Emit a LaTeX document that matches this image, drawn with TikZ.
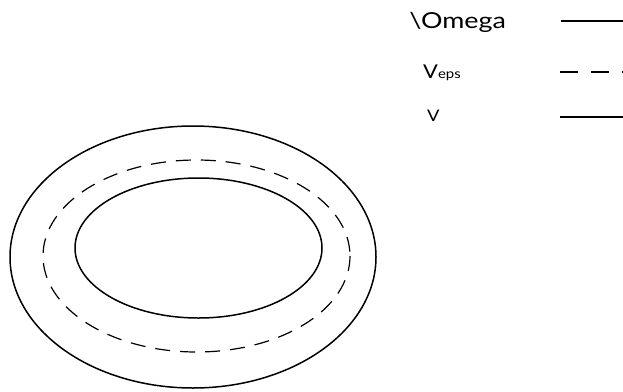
\documentclass[tikz,border=0pt]{standalone}
\usepackage{fontspec}
\setmainfont{Lato}
\usetikzlibrary{positioning}

\begin{document}
\begin{tikzpicture}[x=1pt, y=-1pt,
     every node/.style={inner sep=0pt, anchor=base west},
     boundary/.style={line width=1.5pt},
     layer/.style={line width=1.2pt, dash pattern=on 15pt off 10pt},
     key/.style={line width=1.6pt}]

   \useasboundingbox (0,0) rectangle (623,391);

   % domains
   \draw[boundary] (193,257) ellipse [x radius=183, y radius=131];
   \draw[layer] (196.5,256) ellipse [x radius=153.5, y radius=96];
   \draw[boundary] (198.5,248) ellipse [x radius=123.5, y radius=70];

   % legend
   \node[font=\fontsize{22}{26}\selectfont, xscale=1.22, transform shape] (omega) at (409,28) {\textbackslash Omega};
   \node[font=\fontsize{19}{23}\selectfont, xscale=1.15, transform shape] (veps) at (423,78) {V{\fontsize{13}{15}\selectfont eps}};
   \node[font=\fontsize{16}{19}\selectfont, xscale=1.15, transform shape] (v) at (427,121) {V};

   \coordinate (omegaA) at (561,21);  \coordinate (omegaB) at (623,21);
   \coordinate (vepsA) at (560,72);   \coordinate (vepsB) at (623,72);
   \coordinate (vA) at (560,117);     \coordinate (vB) at (623,117);

   \draw[key] (omegaA) -- (omegaB);
   \draw[key, dash pattern=on 18pt off 13pt] (vepsA) -- (vepsB);
   \draw[key] (vA) -- (vB);
\end{tikzpicture}
\end{document}
